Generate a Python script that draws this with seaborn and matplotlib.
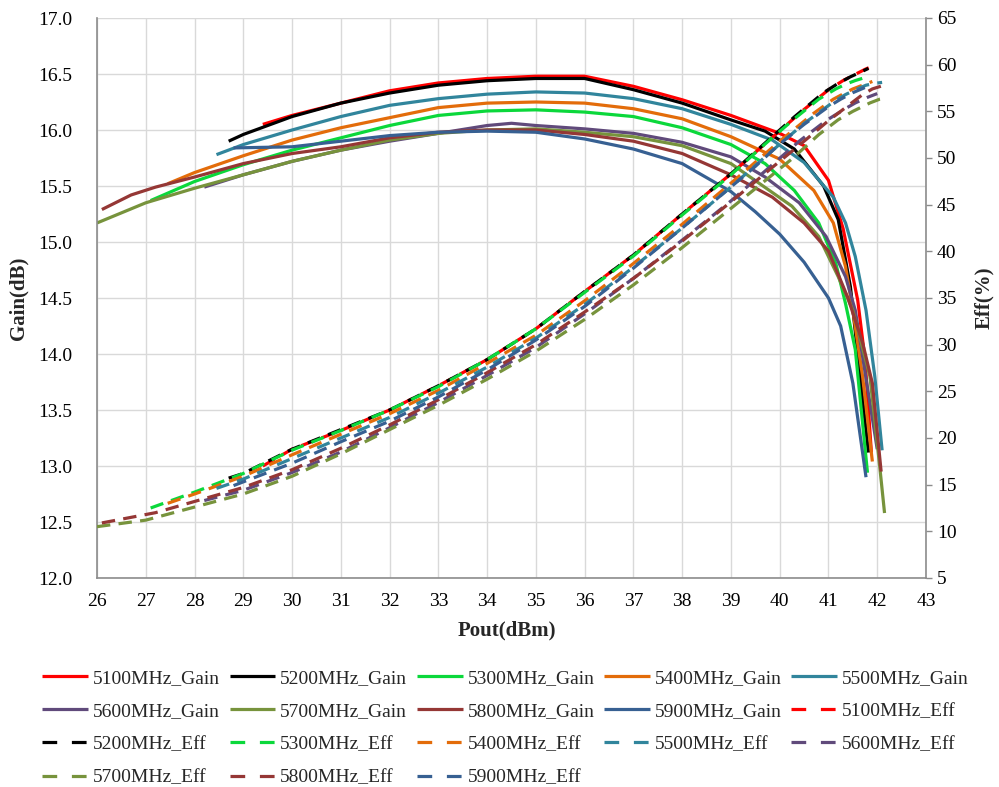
import numpy as np
import pandas as pd
import matplotlib
matplotlib.use("Agg")
import matplotlib.pyplot as plt
from matplotlib.lines import Line2D
import seaborn as sns

# ---------------- data ----------------
freqs = ["5100MHz", "5200MHz", "5300MHz", "5400MHz", "5500MHz",
         "5600MHz", "5700MHz", "5800MHz", "5900MHz"]

pout_5100 = [29.4, 30, 31, 32, 33, 34, 35, 36, 37, 38, 39, 40, 40.5, 41, 41.3, 41.6, 41.75, 41.88]
gain_5100 = [16.05, 16.13, 16.24, 16.35, 16.42, 16.46, 16.48, 16.48, 16.39, 16.27, 16.13, 15.97, 15.86, 15.55, 15.12, 14.48, 13.95, 13.12]
eff_5100 = [17.0, 18.8, 20.8, 23.0, 25.6, 28.4, 31.7, 35.7, 39.6, 44.0, 48.3, 52.9, 55.2, 57.3, 58.3, 59.1, 59.5, 59.8]

pout_5200 = [28.7, 29, 30, 31, 32, 33, 34, 35, 36, 37, 38, 39, 39.7, 40.3, 40.9, 41.2, 41.45, 41.7, 41.82]
gain_5200 = [15.90, 15.96, 16.12, 16.24, 16.33, 16.40, 16.44, 16.46, 16.46, 16.36, 16.24, 16.09, 15.99, 15.83, 15.50, 15.20, 14.60, 13.60, 13.12]
eff_5200 = [15.7, 16.2, 18.8, 20.9, 23.0, 25.6, 28.4, 31.7, 35.7, 39.6, 44.0, 48.3, 51.6, 54.4, 57.0, 58.0, 58.7, 59.3, 59.6]

pout_5300 = [27.1, 28, 29, 30, 31, 32, 33, 34, 35, 36, 37, 38, 39, 39.7, 40.3, 40.8, 41.15, 41.35, 41.55, 41.8]
gain_5300 = [15.37, 15.54, 15.69, 15.82, 15.93, 16.04, 16.13, 16.17, 16.18, 16.16, 16.12, 16.02, 15.87, 15.70, 15.46, 15.17, 14.81, 14.45, 14.04, 12.94]
eff_5300 = [12.5, 14.2, 16.2, 18.7, 20.8, 23.0, 25.5, 28.4, 31.7, 35.6, 39.5, 43.9, 48.2, 51.5, 54.2, 56.3, 57.4, 57.9, 58.3, 58.7]

pout_5400 = [27.45, 28, 29, 30, 31, 32, 33, 34, 35, 36, 37, 38, 39, 40, 40.7, 41.1, 41.35, 41.5, 41.7, 41.9]
gain_5400 = [15.52, 15.62, 15.77, 15.91, 16.02, 16.11, 16.20, 16.24, 16.25, 16.24, 16.19, 16.10, 15.94, 15.74, 15.46, 15.17, 14.78, 14.39, 13.80, 13.04]
eff_5400 = [13.0, 14.0, 15.9, 18.2, 20.4, 22.6, 25.1, 28.0, 31.0, 34.7, 38.7, 42.9, 47.3, 51.8, 54.8, 56.3, 57.0, 57.4, 57.8, 58.2]

pout_5500 = [28.45, 29, 30, 31, 32, 33, 34, 35, 36, 37, 38, 39, 39.85, 40.5, 41.1, 41.35, 41.55, 41.77, 41.95, 42.1]
gain_5500 = [15.78, 15.87, 16.00, 16.12, 16.22, 16.28, 16.32, 16.34, 16.33, 16.28, 16.19, 16.05, 15.91, 15.71, 15.40, 15.17, 14.87, 14.39, 13.80, 13.14]
eff_5500 = [14.6, 15.6, 17.8, 20.0, 22.2, 24.8, 27.6, 30.7, 34.3, 38.3, 42.5, 46.9, 50.8, 53.7, 56.0, 56.8, 57.3, 57.8, 58.0, 58.1]

pout_5600 = [28.2, 29, 30, 31, 32, 33, 34, 34.5, 35, 36, 37, 38, 39, 39.7, 40.4, 40.95, 41.35, 41.55, 41.8, 42.0]
gain_5600 = [15.49, 15.60, 15.72, 15.82, 15.90, 15.97, 16.04, 16.06, 16.04, 16.01, 15.97, 15.89, 15.76, 15.58, 15.35, 15.05, 14.69, 14.39, 13.70, 13.15]
eff_5600 = [13.3, 14.4, 16.3, 18.5, 21.1, 23.8, 26.7, 28.2, 29.7, 33.3, 37.1, 41.2, 45.4, 48.6, 51.8, 54.0, 55.3, 55.9, 56.5, 56.9]

pout_5700 = [26.0, 27, 28, 29, 30, 31, 32, 33, 34, 35, 36, 37, 38, 39, 40.25, 40.8, 41.2, 41.5, 41.85, 42.05, 42.15]
gain_5700 = [15.17, 15.35, 15.48, 15.60, 15.72, 15.82, 15.91, 15.97, 16.00, 16.01, 15.98, 15.94, 15.86, 15.70, 15.32, 15.05, 14.69, 14.39, 13.80, 13.00, 12.58]
eff_5700 = [10.5, 11.2, 12.6, 14.0, 15.9, 18.3, 20.9, 23.5, 26.3, 29.3, 32.7, 36.4, 40.4, 44.6, 49.9, 52.5, 54.1, 55.0, 55.9, 56.3, 56.4]

pout_5800 = [26.1, 26.7, 27.2, 28, 29, 30, 31, 32, 33, 34, 35, 36, 37, 38, 39, 39.85, 40.5, 41.0, 41.4, 41.7, 41.9, 42.08]
gain_5800 = [15.29, 15.42, 15.49, 15.58, 15.70, 15.79, 15.85, 15.93, 15.98, 16.00, 16.00, 15.96, 15.90, 15.79, 15.60, 15.40, 15.17, 14.92, 14.50, 14.10, 13.74, 12.95]
eff_5800 = [10.9, 11.5, 12.0, 13.2, 14.7, 16.6, 18.9, 21.4, 24.1, 27.0, 30.0, 33.5, 37.1, 41.1, 45.3, 49.0, 51.8, 54.0, 55.6, 56.8, 57.4, 57.7]

pout_5900 = [28.8, 30, 31, 32, 33, 34, 35, 36, 37, 38, 39, 39.5, 40, 40.5, 41.0, 41.25, 41.5, 41.77]
gain_5900 = [15.84, 15.85, 15.90, 15.95, 15.98, 15.99, 15.98, 15.92, 15.83, 15.70, 15.45, 15.27, 15.07, 14.82, 14.50, 14.25, 13.74, 12.90]
eff_5900 = [14.9, 17.3, 19.6, 21.8, 24.4, 27.3, 30.5, 34.1, 38.2, 42.5, 46.9, 49.1, 51.5, 53.6, 55.5, 56.3, 57.0, 57.6]

colors = ["#FF0000", "#000000", "#0BD83B", "#E36C0A", "#31859C",
          "#604A7B", "#77933C", "#953735", "#376092"]

x_ticks = list(range(26, 44))
gain_ticks = [12.0, 12.5, 13.0, 13.5, 14.0, 14.5, 15.0, 15.5, 16.0, 16.5, 17.0]
eff_ticks = list(range(5, 66, 5))

# ---------------- build table ----------------
pouts = [pout_5100, pout_5200, pout_5300, pout_5400, pout_5500, pout_5600, pout_5700, pout_5800, pout_5900]
gains = [gain_5100, gain_5200, gain_5300, gain_5400, gain_5500, gain_5600, gain_5700, gain_5800, gain_5900]
effs = [eff_5100, eff_5200, eff_5300, eff_5400, eff_5500, eff_5600, eff_5700, eff_5800, eff_5900]

rows = []
for f, p, g, e in zip(freqs, pouts, gains, effs):
    for pi, gi, ei in zip(p, g, e):
        rows.append({"Freq": f, "Pout": pi, "Gain": gi, "Eff": ei})
df = pd.DataFrame(rows)
palette = dict(zip(freqs, colors))

# ---------------- plot ----------------
sns.set_theme(style="white")
plt.rcParams["font.family"] = ["Liberation Serif", "DejaVu Serif"]

fig = plt.figure(figsize=(9.99, 7.87), dpi=100)
ax = fig.add_axes([97 / 999, 1 - 578 / 787, 829 / 999, 560 / 787])
ax2 = ax.twinx()

LW = 2.3
DASH = (0, (4.2, 2.6))
LEG_DASH = (0, (4.6, 4.6))

sns.lineplot(data=df, x="Pout", y="Gain", hue="Freq", hue_order=freqs, palette=palette,
             estimator=None, sort=False, lw=LW, ax=ax, legend=False)
sns.lineplot(data=df, x="Pout", y="Eff", hue="Freq", hue_order=freqs, palette=palette,
             estimator=None, sort=False, lw=LW, ax=ax2, legend=False)
for ln in ax2.get_lines():
    ln.set_linestyle(DASH)
for ln in ax.get_lines() + ax2.get_lines():
    ln.set_solid_capstyle("butt")
    ln.set_dash_capstyle("butt")

ax.set_xlim(26, 43)
ax.set_ylim(12, 17)
ax2.set_ylim(5, 65)
ax.set_xticks(x_ticks)
ax.set_xticklabels([str(v) for v in x_ticks])
ax.set_yticks(gain_ticks)
ax.set_yticklabels([f"{v:.1f}" for v in gain_ticks])
ax2.set_yticks(eff_ticks)
ax2.set_yticklabels([str(v) for v in eff_ticks])

grid_c = "#D9D9D9"
ax.grid(True, color=grid_c, lw=1.0)
ax.set_axisbelow(True)
ax2.grid(False)

spine_c = "#8C8C8C"
for a in (ax, ax2):
    for s in a.spines.values():
        s.set_visible(False)
ax.spines["left"].set_visible(True)
ax.spines["left"].set_color(spine_c)
ax.spines["bottom"].set_visible(True)
ax.spines["bottom"].set_color(spine_c)
ax2.spines["right"].set_visible(True)
ax2.spines["right"].set_color(spine_c)
for s in ("left", "bottom"):
    ax.spines[s].set_linewidth(1.2)
ax2.spines["right"].set_linewidth(1.2)

ax.tick_params(axis="x", length=0, pad=11, labelsize=14, colors="black")
ax.tick_params(axis="y", length=0, pad=18, labelsize=14, colors="black")
ax2.tick_params(axis="y", length=4, width=1, direction="out", color=spine_c, pad=4, labelsize=14, labelcolor="black")

ax.set_xlabel("Pout(dBm)", fontsize=15, fontweight="bold")
ax.set_ylabel("Gain(dB)", fontsize=15, fontweight="bold")
ax2.set_ylabel("Eff(%)", fontsize=15, fontweight="bold")
ax.xaxis.set_label_coords(0.495, -0.075)
ax.yaxis.set_label_coords(-0.083, 0.5)
ax2.yaxis.set_label_coords(1.058, 0.5)

# ---------------- legend (row-major like the reference) ----------------
entries = []
for f, c in zip(freqs, colors):
    entries.append((Line2D([], [], color=c, lw=LW, solid_capstyle="butt"), f + "_Gain"))
for f, c in zip(freqs, colors):
    entries.append((Line2D([], [], color=c, lw=LW, linestyle=LEG_DASH, dash_capstyle="butt"), f + "_Eff"))
ncol = 5
order = []
for col in range(ncol):
    order.extend(range(col, len(entries), ncol))
handles = [entries[i][0] for i in order]
labels = [entries[i][1] for i in order]
fig.legend(handles, labels, ncol=ncol, loc="upper center", bbox_to_anchor=(0.506, 0.162),
           frameon=False, fontsize=14, handlelength=2.35, handletextpad=0.25,
           columnspacing=0.5, labelspacing=0.8, borderpad=0)

fig.savefig("out.png", dpi=100)
